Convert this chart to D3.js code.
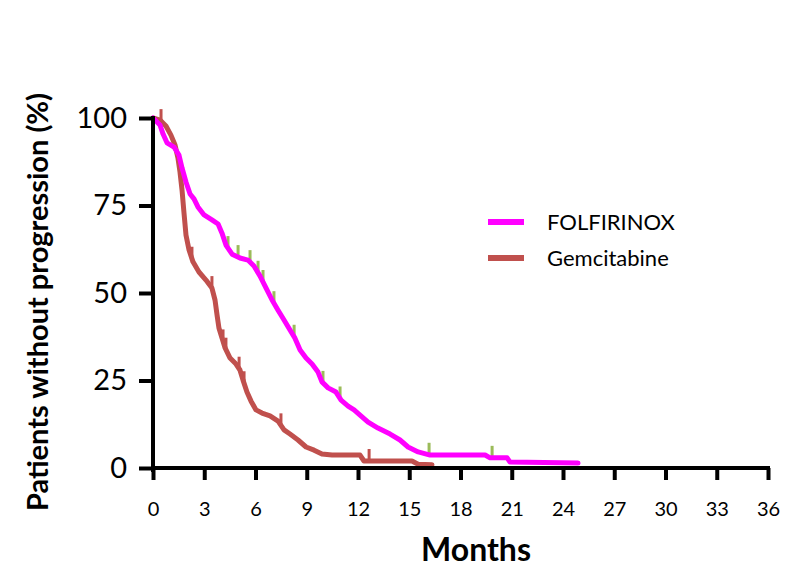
<!DOCTYPE html>
<html>
<head>
<meta charset="utf-8">
<script src="https://cdn.jsdelivr.net/npm/d3@7"></script>
<style>
body { margin: 0; background: #fff; }
svg { display: block; font-family: Lato, "Open Sans", sans-serif; }
</style>
</head>
<body>
<svg id="km" width="802" height="567"></svg>
<script>
// months, % without progression
var folfMonths = [0, 0.41, 0.59, 0.82, 1.23, 1.52, 1.70, 1.93, 2.17, 2.40, 2.63, 2.99, 3.45, 3.81, 4.04, 4.27, 4.63, 5.09, 5.56, 5.91, 6.26, 6.62, 6.97, 7.32, 7.67, 8.02, 8.31, 8.61, 8.96, 9.31, 9.66, 9.89, 10.25, 10.71, 11.01, 11.42, 11.77, 12.12, 12.59, 13.17, 13.88, 14.46, 14.93, 15.52, 16.22, 19.44, 19.73, 20.73, 20.90, 24.88];
var folfPct = [100, 98.0, 95.4, 92.9, 91.7, 89.4, 85.7, 81.7, 78.3, 76.9, 74.6, 72.3, 70.9, 69.7, 67.1, 63.7, 61.1, 60.0, 59.4, 57.7, 54.9, 51.4, 48.0, 45.1, 42.3, 39.4, 37.1, 33.7, 31.4, 29.7, 27.4, 24.6, 22.9, 21.7, 19.4, 17.7, 16.6, 15.1, 13.1, 11.4, 9.7, 8.0, 6.0, 4.6, 3.7, 3.7, 2.9, 2.9, 1.7, 1.4];
var folfCensor = [4.39, 4.98, 5.68, 6.15, 6.44, 7.08, 8.26, 9.95, 10.95, 16.16, 19.85];

var gemMonths = [0, 0.41, 0.76, 1.05, 1.29, 1.46, 1.58, 1.70, 1.81, 1.93, 2.11, 2.34, 2.69, 3.10, 3.45, 3.63, 3.75, 3.86, 4.04, 4.22, 4.51, 4.86, 5.09, 5.27, 5.50, 5.74, 6.03, 6.38, 6.85, 7.32, 7.67, 8.02, 8.49, 8.96, 9.43, 9.89, 10.48, 12.12, 12.35, 15.16, 15.52, 16.33];
var gemPct = [100, 99.4, 97.7, 95.1, 92.3, 88.6, 84.6, 79.4, 73.1, 66.6, 62.3, 58.9, 56.0, 53.7, 51.4, 48.0, 43.7, 40.0, 37.1, 34.3, 31.4, 29.7, 28.0, 25.1, 21.7, 19.1, 16.6, 15.7, 14.9, 13.4, 10.9, 9.7, 8.0, 6.0, 5.1, 4.0, 3.7, 3.7, 2.0, 2.0, 1.1, 0.9];
var gemCensor = [0.47, 2.28, 3.45, 4.10, 4.27, 5.04, 5.33, 7.49, 12.65];

var xTicks = [0, 3, 6, 9, 12, 15, 18, 21, 24, 27, 30, 33, 36];
var yTicks = [0, 25, 50, 75, 100];
var seriesNames = ["FOLFIRINOX", "Gemcitabine"];

var svg = d3.select("#km");

var x = d3.scaleLinear().domain([0, 36]).range([153, 768]);
var y = d3.scaleLinear().domain([0, 100]).range([468, 118]);

function toPts(ms, ps) {
	return ms.map(function(m, i){ return [m, ps[i]]; });
}
// value of the curve at time t, for placing the censor marks
function valueAt(ms, ps, t) {
	var i = d3.bisectRight(ms, t);
	if (i <= 0) return ps[0];
	if (i >= ms.length) return ps[ps.length - 1];
	var f = (t - ms[i-1]) / (ms[i] - ms[i-1]);
	return ps[i-1] + f * (ps[i] - ps[i-1]);
}

var series = [
	{name: seriesNames[0], ms: folfMonths, ps: folfPct, censor: folfCensor, color: "#ff00ff", tick: "#9bbb59"},
	{name: seriesNames[1], ms: gemMonths, ps: gemPct, censor: gemCensor, color: "#c0504d", tick: "#c0504d"}
];

var line = d3.line().x(function(d){ return x(d[0]); }).y(function(d){ return y(d[1]); });

function drawCensor(s) {
	svg.append("g").selectAll("line")
		.data(s.censor)
		.join("line")
		.attr("x1", function(t){ return x(t); })
		.attr("x2", function(t){ return x(t); })
		.attr("y1", function(t){ return y(valueAt(s.ms, s.ps, t)); })
		.attr("y2", function(t){ return y(valueAt(s.ms, s.ps, t)) - 12; })
		.attr("stroke", s.tick)
		.attr("stroke-width", 3);
}

// green marks sit under the magenta curve
drawCensor(series[0]);

// gemcitabine under folfirinox
[series[1], series[0]].forEach(function(s){
	svg.append("path")
		.datum(toPts(s.ms, s.ps))
		.attr("d", line)
		.attr("fill", "none")
		.attr("stroke", s.color)
		.attr("stroke-width", 5)
		.attr("stroke-linejoin", "round")
		.attr("stroke-linecap", "round");
});
drawCensor(series[1]);

// Y axis
var yAxis = svg.append("g")
	.attr("transform", "translate(153,0)")
	.call(d3.axisLeft(y).tickValues(yTicks).tickSize(14).tickPadding(12));
yAxis.select(".domain").attr("stroke", "#000").attr("stroke-width", 4).attr("d", "M0,116V472");
yAxis.selectAll(".tick line").attr("stroke", "#000").attr("stroke-width", 4);
yAxis.selectAll(".tick text").attr("font-size", 29).attr("fill", "#000").attr("font-family", "Lato, sans-serif");

// X axis
var xAxis = svg.append("g")
	.attr("transform", "translate(0,468)")
	.call(d3.axisBottom(x).tickValues(xTicks).tickSize(12).tickPadding(22));
xAxis.select(".domain").attr("stroke", "#000").attr("stroke-width", 4).attr("d", "M151,0H770");
xAxis.selectAll(".tick line").attr("stroke", "#000").attr("stroke-width", 4);
xAxis.selectAll(".tick text").attr("font-size", 20).attr("fill", "#000").attr("font-family", "Lato, sans-serif");

// axis titles
svg.append("text")
	.attr("transform", "translate(48,302) rotate(-90)")
	.style("text-anchor", "middle")
	.attr("font-size", 29)
	.attr("font-weight", "bold")
	.text("Patients without progression (%)");
svg.append("text")
	.attr("x", 476)
	.attr("y", 561)
	.style("text-anchor", "middle")
	.attr("font-size", 32)
	.attr("font-weight", "bold")
	.text("Months");

// legend
var leg = svg.append("g").attr("transform", "translate(488,222)");
series.forEach(function(s, i){
	leg.append("line")
		.attr("x1", 0).attr("x2", 36)
		.attr("y1", i * 36).attr("y2", i * 36)
		.attr("stroke", s.color)
		.attr("stroke-width", 6);
	leg.append("text")
		.attr("x", 59)
		.attr("y", i * 36 + 8)
		.attr("font-size", 22)
		.text(s.name);
});
</script>
</body>
</html>
